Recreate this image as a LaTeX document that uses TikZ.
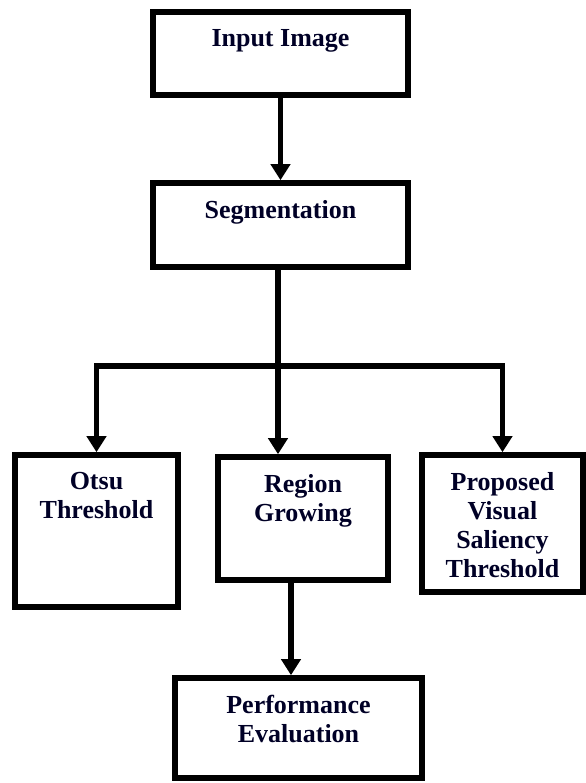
\documentclass[tikz,border=0pt]{standalone}
\usepackage{fontspec}
\setmainfont{Liberation Serif}
\usetikzlibrary{arrows.meta}

\tikzset{
  stage/.style={draw, line width=2.8pt, inner sep=0pt},
  stagetext/.style={anchor=north, inner sep=0pt, yshift=-10pt, align=center,
    font=\fontsize{13}{14.5}\selectfont\bfseries, text=black!85!blue},
  flow/.style={line width=2.6pt, -{Triangle[width=9.5pt,length=8pt]}},
  link/.style={line width=2.6pt}
}

\begin{document}
\begin{tikzpicture}[x=0.5pt,y=-0.5pt]
  \useasboundingbox (0,0) rectangle (585,783);
  % boxes
  \node[stage, minimum width=127.5pt, minimum height=41.5pt,
    label={[stagetext]north:Input Image}] (input) at (280.5,53.5) {};
  \node[stage, minimum width=127.5pt, minimum height=42pt,
    label={[stagetext]north:Segmentation}] (seg) at (280.5,225) {};
  \node[stage, minimum width=81.5pt, minimum height=76pt,
    label={[stagetext]north:Otsu\\Threshold}] (otsu) at (96.5,531) {};
  \node[stage, minimum width=85pt, minimum height=61.5pt,
    label={[stagetext]north:Region\\Growing}] (region) at (303,518.5) {};
  \node[stage, minimum width=80.5pt, minimum height=68.5pt,
    label={[stagetext]north:Proposed\\Visual\\Saliency\\Threshold}] (prop) at (502.5,523.5) {};
  \node[stage, minimum width=123.5pt, minimum height=50pt,
    label={[stagetext]north:Performance\\Evaluation}] (perf) at (298.5,728) {};
  % connectors
  \coordinate (split) at (278,366);
  \draw[flow] (input) -- (seg);
  \draw[link] (seg.south -| split) -- (split);
  \draw[flow] (split) -| (otsu.north);
  \draw[flow] (split) -- (split |- region.north);
  \draw[flow] (split) -| (prop.north);
  \draw[flow] ([xshift=-6pt]region.south) -- ([xshift=-6pt]region.south |- perf.north);
\end{tikzpicture}
\end{document}
